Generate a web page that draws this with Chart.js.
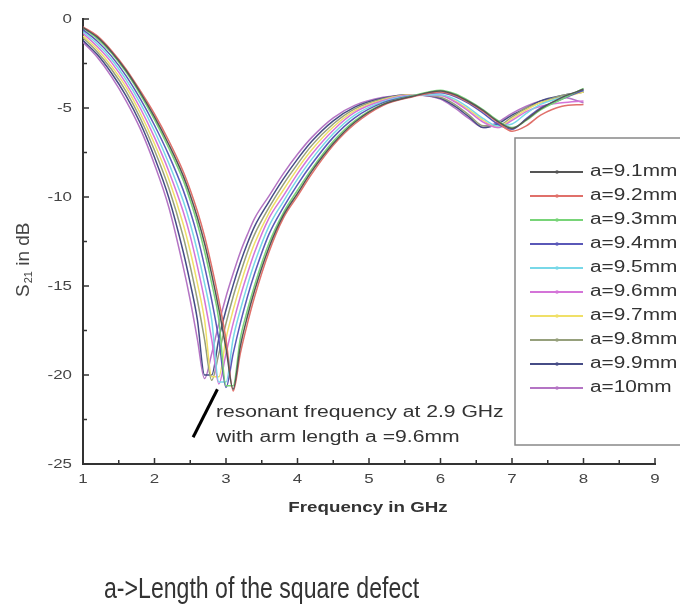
<!DOCTYPE html>
<html>
<head>
<meta charset="utf-8">
<script src="https://cdn.jsdelivr.net/npm/chart.js@4.4.1/dist/chart.umd.min.js"></script>
<style>
  html, body { margin: 0; padding: 0; background: #fff; }
  #wrap { position: relative; width: 680px; height: 615px; }
</style>
</head>
<body>
<div id="wrap"><canvas id="chart" width="680" height="615"></canvas></div>
<script>
// --- data ---
const freqGHz = [1.0, 1.2, 1.4, 1.6, 1.8, 2.0, 2.2, 2.4,
                 2.5, 2.6, 2.7, 2.8, 2.9, 3.0, 3.1, 3.2, 3.3, 3.4,
                 3.6, 3.8, 4.0, 4.2, 4.5, 4.8, 5.2, 5.6,
                 6.0, 6.2, 6.4, 6.6, 6.8, 7.0, 7.2, 7.4, 7.7, 8.0];

const s21_a91  = [-0.48, -1.02, -1.85, -2.88, -4.12, -5.5, -7.05, -8.8,
                  -9.9, -11.15, -12.6, -14.35, -16.3, -18.5, -20.8, -18.4, -16.7, -15.25,
                  -12.85, -11.05, -9.8, -8.55, -7.0, -5.8, -4.8, -4.35,
                  -4.05, -4.25, -4.65, -5.15, -5.75, -6.15, -5.65, -5.05, -4.4, -3.95];
const s21_a92  = [-0.45, -0.95, -1.78, -2.8, -4.02, -5.33, -6.84, -8.55,
                  -9.6, -10.8, -12.2, -13.9, -15.8, -18.0, -20.9, -18.8, -17.1, -15.6,
                  -13.1, -11.2, -9.95, -8.7, -7.1, -5.9, -4.85, -4.38,
                  -4.1, -4.3, -4.7, -5.2, -5.8, -6.3, -6.0, -5.4, -4.9, -4.8];
const s21_a93  = [-0.5, -1.1, -1.92, -2.97, -4.23, -5.65, -7.25, -9.05,
                  -10.2, -11.5, -13.05, -14.85, -16.9, -20.6, -20.6, -17.95, -16.35, -14.95,
                  -12.6, -10.9, -9.62, -8.42, -6.87, -5.72, -4.77, -4.33,
                  -4.0, -4.2, -4.6, -5.1, -5.7, -6.1, -5.7, -5.1, -4.5, -3.9];
const s21_a94  = [-0.6, -1.25, -2.1, -3.18, -4.48, -5.97, -7.65, -9.6,
                  -10.8, -12.2, -13.9, -15.8, -18.0, -20.7, -18.8, -17.1, -15.6, -14.3,
                  -12.1, -10.6, -9.3, -8.15, -6.65, -5.55, -4.7, -4.32,
                  -4.15, -4.35, -4.75, -5.3, -5.9, -6.2, -5.6, -5.0, -4.5, -4.0];
const s21_a95  = [-0.7, -1.4, -2.27, -3.39, -4.72, -6.29, -8.1, -10.2,
                  -11.5, -13.05, -14.85, -16.9, -20.4, -20.4, -17.95, -16.35, -14.95, -13.7,
                  -11.65, -10.27, -9.0, -7.87, -6.45, -5.4, -4.64, -4.3,
                  -4.25, -4.5, -5.0, -5.6, -6.0, -5.9, -5.3, -4.8, -4.4, -4.0];
const s21_a96  = [-0.8, -1.55, -2.45, -3.6, -5.0, -6.65, -8.55, -10.8,
                  -12.2, -13.9, -15.8, -18.0, -20.5, -18.8, -17.1, -15.6, -14.3, -13.1,
                  -11.2, -9.95, -8.7, -7.6, -6.25, -5.25, -4.58, -4.28,
                  -4.3, -4.65, -5.2, -5.8, -6.1, -5.7, -5.2, -4.9, -4.7, -4.6];
const s21_a97  = [-0.95, -1.7, -2.66, -3.81, -5.28, -7.01, -9.0, -11.5,
                  -13.05, -14.85, -16.9, -20.1, -20.1, -17.95, -16.35, -14.95, -13.7, -12.6,
                  -10.9, -9.62, -8.42, -7.35, -6.07, -5.15, -4.53, -4.25,
                  -4.3, -4.6, -5.1, -5.7, -6.1, -5.6, -5.1, -4.7, -4.4, -4.1];
const s21_a98  = [-1.05, -1.85, -2.84, -4.05, -5.56, -7.37, -9.5, -12.2,
                  -13.9, -15.8, -18.0, -20.3, -18.8, -17.1, -15.6, -14.3, -13.1, -12.1,
                  -10.6, -9.3, -8.15, -7.1, -5.9, -5.05, -4.48, -4.25,
                  -4.4, -4.8, -5.4, -6.0, -6.0, -5.5, -5.0, -4.7, -4.3, -4.1];
const s21_a99  = [-1.2, -2.0, -3.05, -4.3, -5.84, -7.77, -10.04, -13.05,
                  -14.85, -16.9, -20.0, -20.0, -17.95, -16.35, -14.95, -13.7, -12.6, -11.65,
                  -10.27, -9.0, -7.87, -6.87, -5.72, -4.95, -4.44, -4.25,
                  -4.45, -4.9, -5.5, -6.1, -5.9, -5.4, -5.0, -4.6, -4.3, -4.1];
const s21_a100 = [-1.3, -2.15, -3.25, -4.58, -6.16, -8.17, -10.58, -13.9,
                  -15.8, -18.0, -20.2, -18.8, -17.1, -15.6, -14.3, -13.1, -12.1, -11.2,
                  -9.95, -8.7, -7.6, -6.65, -5.55, -4.85, -4.4, -4.25,
                  -4.5, -5.0, -5.6, -6.1, -5.8, -5.3, -4.9, -4.6, -4.4, -4.7];

const seriesLabels = ['a=9.1mm', 'a=9.2mm', 'a=9.3mm', 'a=9.4mm', 'a=9.5mm',
                      'a=9.6mm', 'a=9.7mm', 'a=9.8mm', 'a=9.9mm', 'a=10mm'];
const seriesValues = [s21_a91, s21_a92, s21_a93, s21_a94, s21_a95,
                      s21_a96, s21_a97, s21_a98, s21_a99, s21_a100];
const seriesColors = ['#555555', '#e0706a', '#78d478', '#5a58b8', '#78d8e8',
                      '#d474d8', '#f0e068', '#96a07c', '#464c86', '#b474c4'];

const xTickValues = [1, 2, 3, 4, 5, 6, 7, 8, 9];
const xMinorTicks = [1.5, 2.5, 3.5, 4.5, 5.5, 6.5, 7.5, 8.5];
const yTickValues = [0, -5, -10, -15, -20, -25];
const yMinorTicks = [-2.5, -7.5, -12.5, -17.5, -22.5];

const noteLines = ['resonant frequency at 2.9 GHz', 'with arm length a =9.6mm'];
const notePointer = [[2.54, -23.5], [2.88, -20.8]];
const xTitle = 'Frequency in GHz';
const caption = 'a->Length of the square defect';

const FONT = "'Liberation Sans', Arial, sans-serif";

// text drawn with a horizontal stretch, like the picture
function stretchText(ctx, text, x, y, sx, align) {
    ctx.save();
    ctx.translate(x, y);
    ctx.scale(sx, 1);
    ctx.textAlign = align;
    ctx.fillText(text, 0, 0);
    ctx.restore();
}

const decorPlugin = {
    id: 'decor',
    afterDraw(chart) {
        const ctx = chart.ctx;
        const xs = chart.scales.x, ys = chart.scales.y;
        const area = chart.chartArea;

        // inward ticks
        ctx.save();
        ctx.strokeStyle = '#333';
        ctx.lineWidth = 1.5;
        ctx.beginPath();
        yTickValues.forEach(v => { const p = ys.getPixelForValue(v); ctx.moveTo(area.left, p); ctx.lineTo(area.left + 6, p); });
        yMinorTicks.forEach(v => { const p = ys.getPixelForValue(v); ctx.moveTo(area.left, p); ctx.lineTo(area.left + 4, p); });
        xTickValues.forEach(v => { const p = xs.getPixelForValue(v); ctx.moveTo(p, area.bottom); ctx.lineTo(p, area.bottom - 6); });
        xMinorTicks.forEach(v => { const p = xs.getPixelForValue(v); ctx.moveTo(p, area.bottom); ctx.lineTo(p, area.bottom - 4); });
        ctx.stroke();

        // tick labels
        ctx.fillStyle = '#444';
        ctx.font = '13px ' + FONT;
        ctx.textBaseline = 'middle';
        yTickValues.forEach(v => stretchText(ctx, String(v), area.left - 11, ys.getPixelForValue(v), 1.3, 'right'));
        xTickValues.forEach(v => stretchText(ctx, String(v), xs.getPixelForValue(v), area.bottom + 15, 1.3, 'center'));

        // axis titles
        ctx.fillStyle = '#333';
        ctx.font = 'bold 15px ' + FONT;
        stretchText(ctx, xTitle, (area.left + area.right) / 2 - 1, area.bottom + 44, 1.25, 'center');

        ctx.save();
        ctx.translate(24, 297);
        ctx.rotate(-Math.PI / 2);
        ctx.textAlign = 'left';
        ctx.textBaseline = 'middle';
        ctx.fillStyle = '#444';
        ctx.font = '19px ' + FONT;
        ctx.fillText('S', 0, 0);
        let w = ctx.measureText('S').width;
        ctx.font = '11px ' + FONT;
        ctx.fillText('21', w + 1, 5);
        w += ctx.measureText('21').width + 1;
        ctx.font = '19px ' + FONT;
        ctx.fillText(' in dB', w, 0);
        ctx.restore();

        // annotation pointer and text
        ctx.strokeStyle = '#000';
        ctx.lineWidth = 3;
        ctx.beginPath();
        ctx.moveTo(xs.getPixelForValue(notePointer[0][0]), ys.getPixelForValue(notePointer[0][1]));
        ctx.lineTo(xs.getPixelForValue(notePointer[1][0]), ys.getPixelForValue(notePointer[1][1]));
        ctx.stroke();
        ctx.fillStyle = '#333';
        ctx.font = '16px ' + FONT;
        ctx.textBaseline = 'middle';
        noteLines.forEach((t, i) => stretchText(ctx, t, 216, 413 + i * 25, 1.32, 'left'));

        // legend box
        ctx.fillStyle = '#fff';
        ctx.fillRect(515, 138, 200, 307);
        ctx.strokeStyle = '#888';
        ctx.lineWidth = 1.5;
        ctx.strokeRect(515, 138, 200, 307);
        chart.data.datasets.forEach((ds, i) => {
            const y = 172 + i * 24;
            ctx.strokeStyle = ds.borderColor;
            ctx.lineWidth = 1.8;
            ctx.beginPath();
            ctx.moveTo(530, y);
            ctx.lineTo(583, y);
            ctx.stroke();
            ctx.fillStyle = ds.borderColor;
            ctx.beginPath();
            ctx.arc(557, y, 1.8, 0, Math.PI * 2);
            ctx.fill();
            ctx.fillStyle = '#333';
            ctx.font = '16px ' + FONT;
            ctx.textBaseline = 'middle';
            stretchText(ctx, ds.label, 590, y, 1.3, 'left');
        });

        // caption under the chart
        ctx.fillStyle = '#333';
        ctx.font = '30px ' + FONT;
        ctx.textBaseline = 'alphabetic';
        stretchText(ctx, caption, 104, 598, 0.77, 'left');
        ctx.restore();
    }
};

const datasets = seriesLabels.map((label, i) => ({
    label: label,
    data: freqGHz.map((f, j) => ({ x: f, y: seriesValues[i][j] })),
    borderColor: seriesColors[i],
    backgroundColor: seriesColors[i],
    borderWidth: 1.5,
    pointRadius: 0,
    cubicInterpolationMode: 'monotone',
    fill: false
}));

new Chart(document.getElementById('chart'), {
    type: 'line',
    data: { datasets: datasets },
    options: {
        responsive: false,
        animation: false,
        layout: { padding: { top: 19, right: 25, left: 0, bottom: 0 } },
        plugins: { legend: { display: false }, tooltip: { enabled: false } },
        scales: {
            x: {
                type: 'linear', min: 1, max: 9,
                ticks: { display: false },
                grid: { display: true, drawOnChartArea: false, drawTicks: false },
                border: { display: true, color: '#333', width: 2 },
                afterFit: (scale) => { scale.height = 151; }
            },
            y: {
                type: 'linear', min: -25, max: 0,
                ticks: { display: false },
                grid: { display: true, drawOnChartArea: false, drawTicks: false },
                border: { display: true, color: '#333', width: 2 },
                afterFit: (scale) => { scale.width = 83; }
            }
        }
    },
    plugins: [decorPlugin]
});
</script>
</body>
</html>
